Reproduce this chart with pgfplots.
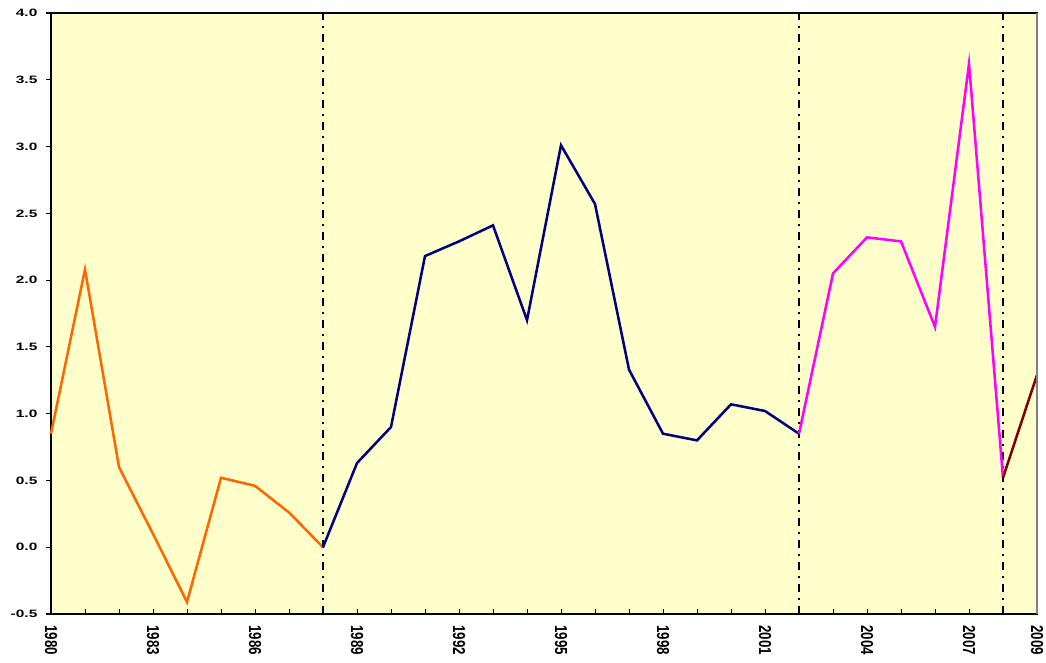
\documentclass[border=0pt]{standalone}
\usepackage{pgfplots}
\pgfplotsset{compat=1.18}
\usepackage{fontspec}
\setmainfont{Liberation Sans}
\definecolor{bgy}{HTML}{FFFFCC}
\definecolor{orng}{HTML}{FF6600}
\definecolor{navy}{HTML}{000080}
\definecolor{magn}{HTML}{FF00FF}
\definecolor{dred}{HTML}{800000}
\begin{document}
\begin{tikzpicture}
\begin{axis}[
  name=ax,
  at={(0pt,0pt)}, anchor=south west,
  scale only axis,
  width=739.5pt, height=450.75pt,
  xmin=1980, xmax=2009, ymin=-0.5, ymax=4.0,
  axis background/.style={fill=bgy},
  axis line style={black, line width=0.9pt},
  ytick={-0.5,0,0.5,1,1.5,2,2.5,3,3.5,4},
  ytick pos=left, xtick pos=bottom,
  major tick length=4pt,
  tick align=inside,
  y tick style={black, line width=0.8pt, xshift=-4pt},
  x tick style={black, line width=0.6pt},
  yticklabel style={font=\fontsize{8}{9}\selectfont\bfseries, xscale=1.45, anchor=east, xshift=-3.5pt,
    /pgf/number format/fixed, /pgf/number format/fixed zerofill, /pgf/number format/precision=1, /pgf/number format/assume math mode=true},
  xtick={1980,1981,...,2009},
  xticklabels={1980,,,1983,,,1986,,,1989,,,1992,,,1995,,,1998,,,2001,,,2004,,,2007,,2009},
  xticklabel style={font=\fontsize{10}{11}\selectfont\bfseries, rotate=-90, xshift=5pt, yscale=1.3, anchor=west},
  clip=false,
]
% regime separators
\addplot[black, line width=1.5pt, dash pattern=on 6pt off 4.5pt on 1.5pt off 4.5pt] coordinates {(1988,-0.5) (1988,4.0)};
\addplot[black, line width=1.5pt, dash pattern=on 6pt off 4.5pt on 1.5pt off 4.5pt] coordinates {(2002,-0.5) (2002,4.0)};
\addplot[black, line width=1.5pt, dash pattern=on 6pt off 4.5pt on 1.5pt off 4.5pt] coordinates {(2008,-0.5) (2008,4.0)};
% series
\addplot[orng, line width=1.9pt] coordinates {
(1980,0.85) (1981,2.08) (1982,0.60) (1983,0.10) (1984,-0.41) (1985,0.52) (1986,0.46) (1987,0.26) (1988,0.00)};
\addplot[navy, line width=1.9pt] coordinates {
(1988,0.00) (1989,0.63) (1990,0.90) (1991,2.18) (1992,2.29) (1993,2.41) (1994,1.70) (1995,3.01) (1996,2.57) (1997,1.33) (1998,0.85) (1999,0.80) (2000,1.07) (2001,1.02) (2002,0.85)};
\addplot[magn, line width=1.9pt] coordinates {
(2002,0.85) (2003,2.05) (2004,2.32) (2005,2.29) (2006,1.65) (2007,3.62) (2008,0.52)};
\addplot[dred, line width=1.9pt] coordinates {(2008,0.52) (2009,1.29)};
\draw[gray, line width=1.2pt] (axis cs:2009,-0.5) -- (axis cs:2009,4.0);
\end{axis}
\pgfresetboundingbox
\path[use as bounding box] (-38.25pt,-36pt) rectangle (746.25pt,460.5pt);
\end{tikzpicture}
\end{document}
